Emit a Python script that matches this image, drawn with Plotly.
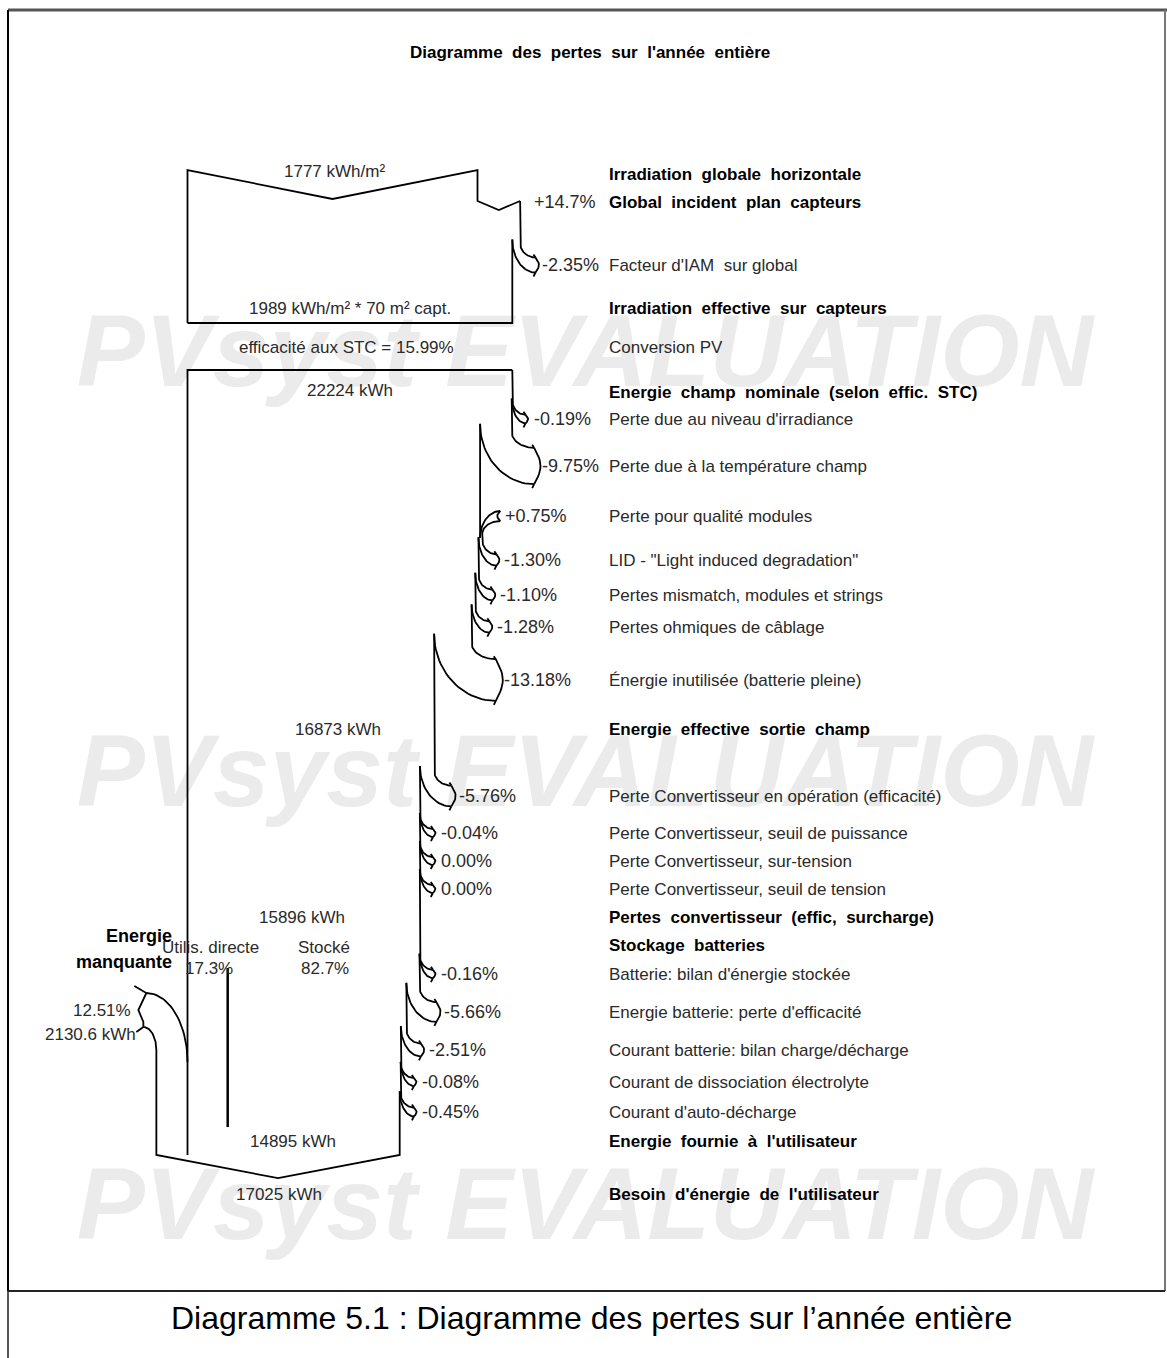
import numpy as np
import plotly.graph_objects as go

# ---------------- data ----------------
irr_global_horiz = 1777.0            # kWh/m²
irr_incident_gain_pct = 14.7         # %
iam_loss_pct = -2.35                 # %
irr_effective = 1989                 # kWh/m²
collector_area = 70                  # m²
stc_efficiency = 15.99               # %

array_nominal_energy = 22224         # kWh
array_loss_labels = ["Perte due au niveau d'irradiance",
                     "Perte due à la température champ",
                     "Perte pour qualité modules",
                     'LID - "Light induced degradation"',
                     "Pertes mismatch, modules et strings",
                     "Pertes ohmiques de câblage",
                     "Énergie inutilisée (batterie pleine)"]
array_loss_pct = [-0.19, -9.75, 0.75, -1.30, -1.10, -1.28, -13.18]
array_effective_energy = 16873

conv_loss_labels = ["Perte Convertisseur en opération (efficacité)",
                    "Perte Convertisseur, seuil de puissance",
                    "Perte Convertisseur, sur-tension",
                    "Perte Convertisseur, seuil de tension"]
conv_loss_pct = [-5.76, -0.04, 0.00, 0.00]
conv_output_energy = 15896

direct_use_pct = 17.3
stored_pct = 82.7

batt_loss_labels = ["Batterie: bilan d'énergie stockée",
                    "Energie batterie: perte d'efficacité",
                    "Courant batterie: bilan charge/décharge",
                    "Courant de dissociation électrolyte",
                    "Courant d'auto-décharge"]
batt_loss_pct = [-0.16, -5.66, -2.51, -0.08, -0.45]
energy_supplied = 14895
missing_energy = 2130.6
missing_pct = 12.51
energy_need = 17025

# ---------------- layout (positions / styles) ----------------
W, H = 1167, 1358
X_LEFT = 187.5
IRR_WIDTH_PX = 290.0           # drawn width of the horizontal irradiation flow
LABEL_X = 607
array_loss_rows = [419, 466, 516, 560, 595, 627, 680]
conv_loss_rows = [796, 833, 861, 889]
batt_loss_rows = [974, 1012, 1050, 1082, 1112]
FONT = "Liberation Sans, Arial, sans-serif"
LINE = "black"
SZ_LABEL = 17
SZ_BOLD = 17
SZ_PCT = 18
SZ_NUM = 17

irr_scale = IRR_WIDTH_PX / irr_global_horiz
eff_width = irr_global_horiz * (1 + irr_incident_gain_pct / 100) * (1 + iam_loss_pct / 100) * irr_scale
e_scale = eff_width / array_nominal_energy

LX, LY = [], []
annots = []


def seg(pts):
    for x, y in pts:
        LX.append(float(x)); LY.append(float(y))
    LX.append(None); LY.append(None)


def arc_yx(x0, y0, x1, y1, n=28):
    t = np.linspace(0, np.pi / 2, n)
    return list(zip(x0 + (x1 - x0) * (1 - np.cos(t)), y0 + (y1 - y0) * np.sin(t)))


def arc_xy(x0, y0, x1, y1, n=28):
    t = np.linspace(0, np.pi / 2, n)
    return list(zip(x0 + (x1 - x0) * np.sin(t), y0 + (y1 - y0) * (1 - np.cos(t))))


def txt(x, y, s, size=15, bold=False, anchor="left", color="#2a2a2a"):
    annots.append(dict(x=x, y=y, xref="x", yref="y", text=("<b>%s</b>" % s) if bold else s,
                       showarrow=False, xanchor=anchor, yanchor="middle",
                       font=dict(family=FONT, size=size, color=color)))


def pct_text(p, decimals=2):
    if abs(p) < 1e-9:
        return "%.*f%%" % (decimals, 0.0)
    return "%+.*f%%" % (decimals, p)


def loss_arrow(x0, y_top, w, yrow):
    """Draw a loss leaving the right edge; return new edge and its top."""
    x1 = x0 - w
    xt = x0 + 13 + 0.3 * w
    hh = 4 + 0.45 * w
    d_out = 18 + 0.5 * w
    d_in = 20 + 0.7 * w
    ya, yb = yrow - hh, yrow + hh
    seg([(x0, y_top), (x0, yrow - d_out)] + arc_yx(x0, yrow - d_out, xt, ya))
    seg(arc_yx(x1, yrow - d_in, xt, yb))
    s = np.linspace(0, 1, 15)
    b = 2.5 + 0.12 * w
    seg(list(zip(xt + b * np.sin(np.pi * s), ya + (yb - ya) * s)))
    seg([(xt, ya), (xt - 2, ya - 3)])
    seg([(xt, yb), (xt - 2, yb + 4)])
    return x1, yrow - d_in, xt


def gain_arrow(x0, y_top, w, yrow):
    x_new = x0 + w
    xt = x_new + 18
    hh = 4 + 0.45 * w
    ya, yb = yrow - hh, yrow + hh
    seg([(x0, y_top), (x0, yrow + 22)])
    seg(arc_xy(xt, ya, x0, yrow + 22))
    seg(arc_xy(xt, yb, x_new, yrow + 18))
    s = np.linspace(0, 1, 15)
    seg(list(zip(xt - 3 * np.sin(np.pi * s), ya + (yb - ya) * s)))
    return x_new, yrow + 18, xt


# ---------------- top block: irradiation ----------------
top_y, bot_y = 170, 323
w_h = irr_global_horiz * irr_scale
x_r0 = X_LEFT + w_h
mid0 = X_LEFT + w_h / 2
w_g = w_h * irr_incident_gain_pct / 100
x_r1 = x_r0 + w_g
seg([(X_LEFT, bot_y), (X_LEFT, top_y), (mid0, top_y + 0.2 * w_h / 2), (x_r0, top_y),
     (x_r0, 201), (x_r0 + w_g / 2, 210), (x_r1, 201)])
w_iam = (x_r1 - X_LEFT) * (-iam_loss_pct) / 100
x_e, y_t, xt = loss_arrow(x_r1, 201, w_iam, 265)
seg([(x_e, y_t), (x_e, bot_y), (X_LEFT, bot_y)])
txt(598, 202, "+%.1f%%" % irr_incident_gain_pct, SZ_PCT, anchor="right")
txt(xt + 5, 265, pct_text(iam_loss_pct), SZ_PCT)

txt(mid0 + 2, 171, "%d kWh/m²" % irr_global_horiz, SZ_NUM, anchor="center")
txt(350, 308, "%d kWh/m² * %d m² capt." % (irr_effective, collector_area), SZ_NUM, anchor="center")
txt(346, 347, "efficacité aux STC = %.2f%%" % stc_efficiency, SZ_NUM, anchor="center")

# ---------------- second block: array energy ----------------
box_top = 370
bottom_y = 1155
x_e = X_LEFT + array_nominal_energy * e_scale
seg([(X_LEFT, bottom_y), (X_LEFT, box_top), (x_e, box_top)])
y_t = box_top
txt(350, 390, "%d kWh" % array_nominal_energy, SZ_NUM, anchor="center")


def run_losses(pcts, rows, x_e, y_t):
    for p, yr in zip(pcts, rows):
        w = (x_e - X_LEFT) * abs(p) / 100
        if p > 0:
            x_e, y_t, xt = gain_arrow(x_e, y_t, w, yr)
            txt(xt + 3, yr, pct_text(p), SZ_PCT)
        else:
            x_e, y_t, xt = loss_arrow(x_e, y_t, w, yr)
            txt(xt + 6, yr, pct_text(p), SZ_PCT)
    return x_e, y_t


x_e, y_t = run_losses(array_loss_pct, array_loss_rows, x_e, y_t)
txt(338, 729, "%d kWh" % array_effective_energy, SZ_NUM, anchor="center")
x_e, y_t = run_losses(conv_loss_pct, conv_loss_rows, x_e, y_t)
txt(302, 917, "%d kWh" % conv_output_energy, SZ_NUM, anchor="center")

# split direct use / stored
x_split = X_LEFT + (x_e - X_LEFT) * direct_use_pct / 100
txt(210, 947, "Utilis. directe", SZ_NUM, anchor="center")
txt(209, 968, "%.1f%%" % direct_use_pct, SZ_NUM, anchor="center")
txt(324, 947, "Stocké", SZ_NUM, anchor="center")
txt(325, 968, "%.1f%%" % stored_pct, SZ_NUM, anchor="center")

x_e, y_t = run_losses(batt_loss_pct, batt_loss_rows, x_e, y_t)
txt(293, 1141, "%d kWh" % energy_supplied, SZ_NUM, anchor="center")

# bottom V with missing energy inflow
x_miss = X_LEFT - missing_energy * e_scale
mid_b = (x_miss + x_e) / 2
seg([(x_e, y_t), (x_e, bottom_y), (mid_b, bottom_y + 0.19 * (x_e - x_miss) / 2),
     (x_miss, bottom_y), (x_miss, 1050)] + arc_yx(x_miss, 1050, x_miss - 13, 1027))
x_tip = x_miss - 10
seg(arc_yx(X_LEFT, 1062, x_tip, 993))
seg([(x_tip - 12, 986), (x_tip, 993), (x_tip - 8, 1010), (x_tip - 3, 1022), (x_miss - 13, 1027),
     (x_miss - 20, 1032)])
txt(279, 1194, "%d kWh" % energy_need, SZ_NUM, anchor="center")
txt(133, 1010, "%.2f%%" % missing_pct, SZ_NUM, anchor="right")
txt(138, 1034, "%.1f kWh" % missing_energy, SZ_NUM, anchor="right")
txt(174, 936, "Energie", 18, bold=True, anchor="right", color="black")
txt(174, 962, "manquante", 18, bold=True, anchor="right", color="black")

# ---------------- right-hand labels ----------------
bold_rows = [("Irradiation  globale  horizontale", 174), ("Global  incident  plan  capteurs", 202),
             ("Irradiation  effective  sur  capteurs", 308),
             ("Energie  champ  nominale  (selon  effic.  STC)", 392),
             ("Energie  effective  sortie  champ", 729),
             ("Pertes  convertisseur  (effic,  surcharge)", 917),
             ("Stockage  batteries", 945),
             ("Energie  fournie  à  l'utilisateur", 1141),
             ("Besoin  d'énergie  de  l'utilisateur", 1194)]
for s, yr in bold_rows:
    txt(LABEL_X, yr, s.replace("  ", "&nbsp; "), SZ_BOLD, bold=True, color="black")
txt(LABEL_X, 265, "Facteur d'IAM&nbsp; sur global", SZ_LABEL)
txt(LABEL_X, 347, "Conversion PV", SZ_LABEL)
for s, yr in zip(array_loss_labels + conv_loss_labels + batt_loss_labels,
                 array_loss_rows + conv_loss_rows + batt_loss_rows):
    txt(LABEL_X, yr, s, SZ_LABEL)

# title and caption
txt(590, 52, "Diagramme&nbsp; des&nbsp; pertes&nbsp; sur&nbsp; l'année&nbsp; entière", 17, bold=True,
    anchor="center", color="black")
txt(591, 1318, "Diagramme 5.1 : Diagramme des pertes sur l’année entière", 32, anchor="center",
    color="black")

# ---------------- figure ----------------
fig = go.Figure()
fig.add_trace(go.Scatter(x=[585, 585, 585], y=[360, 780, 1213], mode="text",
                         text=["PVsyst EVALUATION"] * 3, textposition="middle center",
                         textfont=dict(family="Liberation Sans", size=102,
                                       color="#ebebeb", weight="bold", style="italic"),
                         hoverinfo="skip"))
fig.add_trace(go.Scatter(x=LX, y=LY, mode="lines", line=dict(color=LINE, width=1.8),
                         hoverinfo="skip"))
fig.add_trace(go.Scatter(x=[x_split, x_split], y=[968, 1127], mode="lines",
                         line=dict(color=LINE, width=2.5), hoverinfo="skip"))

shapes = [
    dict(type="line", x0=8, x1=W, y0=10, y1=10, line=dict(color="#555", width=3)),
    dict(type="line", x0=8, x1=8, y0=10, y1=1291, line=dict(color="black", width=2)),
    dict(type="line", x0=8, x1=8, y0=1291, y1=H, line=dict(color="#555", width=2)),
    dict(type="line", x0=1165, x1=1165, y0=10, y1=1291, line=dict(color="#777", width=2)),
    dict(type="line", x0=8, x1=1165, y0=1291, y1=1291, line=dict(color="#222", width=2)),
]

fig.update_layout(width=W, height=H, margin=dict(l=0, r=0, t=0, b=0),
                  paper_bgcolor="white", plot_bgcolor="white", showlegend=False,
                  xaxis=dict(range=[0, W], visible=False, fixedrange=True),
                  yaxis=dict(range=[H, 0], visible=False, fixedrange=True),
                  annotations=annots, shapes=shapes)

fig.write_html("out.html", config={"displayModeBar": False},
               post_script="document.body.style.margin='0';")
